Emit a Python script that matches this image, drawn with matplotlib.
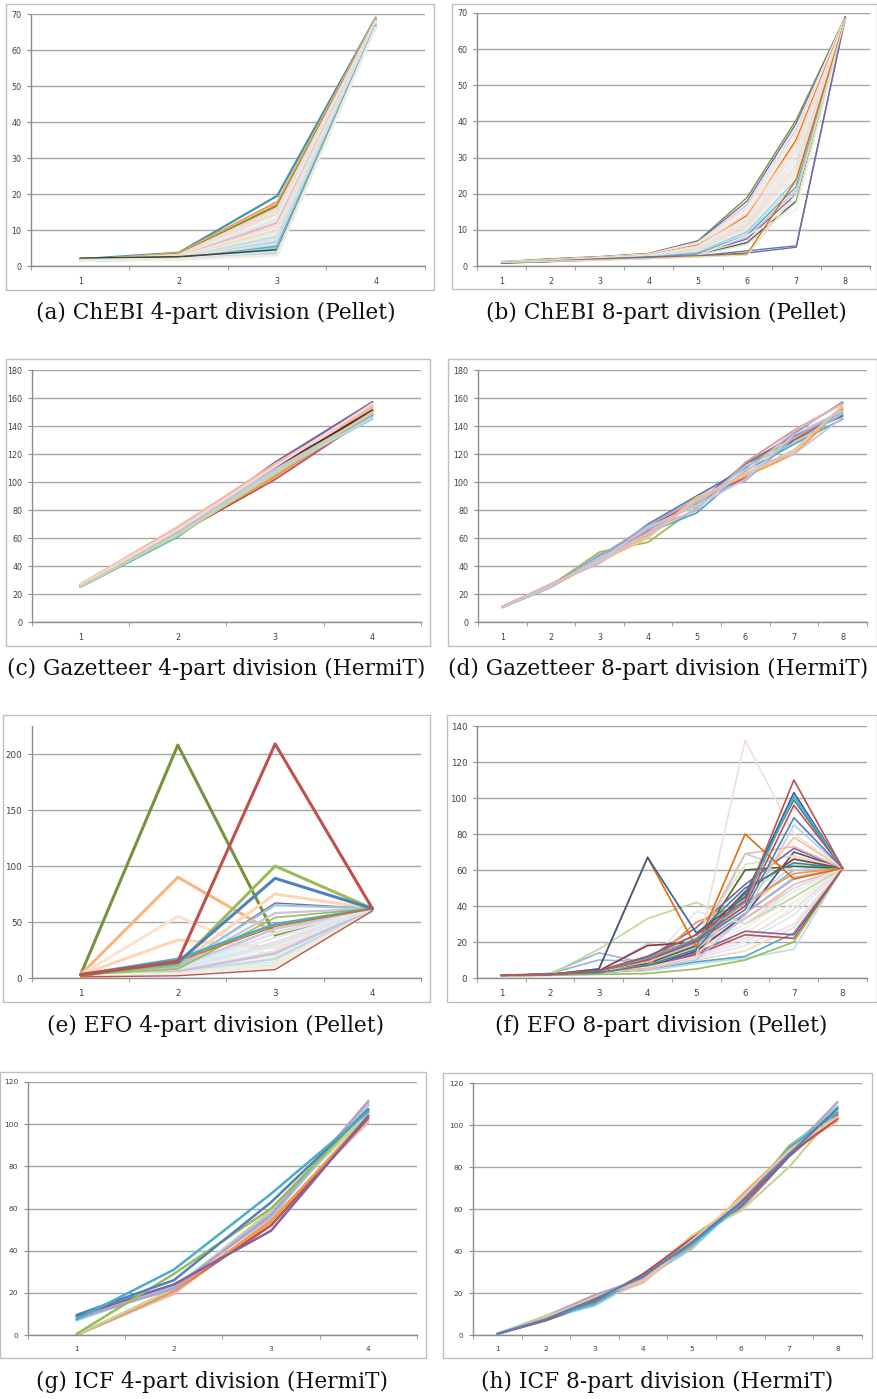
import matplotlib
matplotlib.use("Agg")
import matplotlib.pyplot as plt
from matplotlib.patches import Rectangle

# ---------------- data ----------------
CAPTIONS = [
    "(a) ChEBI 4-part division (Pellet)",
    "(b) ChEBI 8-part division (Pellet)",
    "(c) Gazetteer 4-part division (HermiT)",
    "(d) Gazetteer 8-part division (HermiT)",
    "(e) EFO 4-part division (Pellet)",
    "(f) EFO 8-part division (Pellet)",
    "(g) ICF 4-part division (HermiT)",
    "(h) ICF 8-part division (HermiT)",
]
PARTS_4 = ["1", "2", "3", "4"]
PARTS_8 = ["1", "2", "3", "4", "5", "6", "7", "8"]

A_SERIES = [
    [1.9, 3.7, 19.5, 69.0], [1.5, 3.6, 17.8, 68.8], [1.6, 3.4, 17.2, 68.6],
    [1.7, 3.3, 16.8, 68.4], [1.8, 3.1, 16.0, 68.2], [1.5, 2.9, 15.2, 68.0],
    [1.6, 2.8, 14.5, 67.9], [1.9, 2.7, 13.5, 67.8], [1.7, 2.6, 12.8, 67.6],
    [1.6, 2.5, 12.0, 67.5], [1.5, 2.4, 11.2, 67.4], [1.8, 2.5, 10.5, 67.3],
    [1.7, 2.3, 10.0, 67.2], [1.6, 2.2, 9.4, 67.1], [1.5, 2.3, 8.8, 67.0],
    [1.9, 2.2, 8.2, 67.0], [1.6, 2.1, 7.6, 66.9], [1.7, 2.1, 7.0, 66.8],
    [1.5, 2.0, 6.6, 66.8], [1.8, 2.2, 6.2, 66.7], [1.6, 2.0, 5.8, 66.6],
    [1.5, 1.9, 5.4, 66.6], [1.7, 2.1, 5.0, 66.5], [2.1, 2.5, 4.4, 66.5],
    [1.6, 2.0, 4.0, 66.4], [1.5, 1.8, 3.5, 66.4], [1.7, 2.0, 3.1, 66.3],
    [1.4, 1.7, 2.9, 66.2],
]
A_COLORS = ["#3A97AE", "#F79646", "#FAC090", "#77933C", "#FCD5B5", "#E6E0EC",
            "#F2DCDB", "#EBF1DE", "#DCE6F2", "#E6B9B8", "#E6E0EC", "#FDEADA",
            "#FCD5B5", "#DBEEF4", "#EBF1DE", "#B7DEE8", "#F2DCDB", "#DCE6F2",
            "#93CDDD", "#DBEEF4", "#B7DEE8", "#4BACC6", "#93CDDD", "#4A452A",
            "#DBEEF4", "#B9CDE5", "#DCE6F2", "#EBF1DE"]

B_SERIES = [
    [1.2, 2.0, 2.6, 3.5, 7.0, 19.0, 40.5, 69.0],
    [1.1, 1.9, 2.5, 3.4, 6.8, 18.0, 39.5, 68.9],
    [1.0, 1.8, 2.5, 3.3, 6.5, 17.0, 38.0, 68.8],
    [1.1, 1.7, 2.4, 3.3, 6.6, 16.5, 38.5, 68.9],
    [1.1, 1.8, 2.4, 3.2, 6.2, 16.0, 37.0, 68.8],
    [0.9, 1.7, 2.3, 3.1, 6.0, 15.0, 36.0, 68.7],
    [1.0, 1.7, 2.3, 3.0, 5.8, 14.0, 35.0, 68.7],
    [1.0, 1.6, 2.3, 3.0, 5.6, 14.5, 34.0, 68.6],
    [1.0, 1.6, 2.2, 2.9, 5.5, 13.5, 33.0, 68.6],
    [1.0, 1.5, 2.1, 2.8, 5.0, 12.8, 32.0, 68.5],
    [1.2, 1.6, 2.2, 2.8, 5.2, 13.0, 31.0, 68.6],
    [0.9, 1.6, 2.1, 2.8, 5.0, 12.5, 30.0, 68.5],
    [1.0, 1.5, 2.1, 2.7, 4.8, 12.0, 29.0, 68.5],
    [1.1, 1.5, 2.0, 2.7, 4.6, 11.5, 28.0, 68.5],
    [1.0, 1.5, 2.0, 2.6, 4.4, 11.0, 27.0, 68.4],
    [0.9, 1.4, 2.0, 2.6, 4.2, 10.5, 26.0, 68.4],
    [1.0, 1.4, 1.9, 2.5, 4.0, 10.0, 25.0, 68.4],
    [1.1, 1.5, 1.9, 2.5, 3.8, 9.5, 24.0, 68.3],
    [1.0, 1.4, 1.9, 2.4, 3.6, 9.0, 23.0, 68.3],
    [0.9, 1.4, 1.8, 2.4, 3.5, 8.5, 22.0, 68.3],
    [1.0, 1.3, 1.8, 2.3, 3.4, 8.0, 21.0, 68.2],
    [1.0, 1.3, 1.8, 2.3, 3.3, 7.5, 20.0, 68.2],
    [1.1, 1.4, 1.7, 2.2, 3.2, 7.0, 19.0, 68.2],
    [0.9, 1.3, 1.7, 2.2, 3.1, 6.5, 18.0, 68.1],
    [1.0, 1.3, 1.7, 2.1, 3.0, 6.0, 17.5, 68.1],
    [1.0, 1.3, 1.6, 2.1, 2.9, 8.5, 15.5, 68.0],
    [0.8, 1.3, 2.0, 2.5, 2.8, 4.2, 5.6, 69.0],
    [0.8, 1.2, 1.8, 2.4, 2.8, 3.6, 5.2, 68.8],
    [1.0, 1.3, 1.7, 2.1, 2.6, 3.3, 24.0, 68.5],
    [1.0, 1.3, 1.6, 2.0, 2.5, 3.0, 20.0, 68.4],
]
B_COLORS = ["#77933C", "#8064A2", "#E6B9B8", "#DBEEF4", "#DCE6F2", "#FDEADA",
            "#E46C0A", "#FCD5B5", "#F2DCDB", "#E6E0EC", "#EBF1DE", "#E6E0EC",
            "#DBEEF4", "#FCD5B5", "#F2DCDB", "#DCE6F2", "#FDEADA", "#93CDDD",
            "#B7DEE8", "#4BACC6", "#CCC1DA", "#8064A2", "#EBF1DE", "#5F497A",
            "#D7E4BD", "#EBF1DE", "#4F81BD", "#8064A2", "#E46C0A", "#D7E4BD"]

C_SERIES = [
    [25.0, 61, 110, 157], [25.5, 62, 108, 145], [25.0, 64, 114, 157],
    [26.0, 63, 102, 148], [27.0, 65, 103, 150], [26.0, 64, 105, 152],
    [26.5, 64, 104, 154], [26.0, 66, 112, 147], [27.0, 68, 113, 153],
    [26.0, 65, 110, 151], [25.0, 63, 107, 146], [27.0, 67, 112, 155],
    [26.0, 65, 109, 149], [26.5, 66, 111, 156], [25.5, 62, 106, 150],
]
C_COLORS = ["#4BACC6", "#93CDDD", "#8064A2", "#C0504D", "#D99694", "#9BBB59",
            "#F79646", "#B3A2C7", "#E6B9B8", "#632523", "#B7DEE8", "#FAC090",
            "#CCC1DA", "#F2DCDB", "#C3D69B"]

D_SERIES = [
    [10.5, 25, 44, 70, 90, 110, 135, 157],
    [10.5, 26, 50, 57, 82, 113, 130, 152],
    [11.0, 27, 45, 68, 86, 103, 130, 148],
    [10.5, 25, 48, 64, 78, 108, 127, 145],
    [11.0, 26, 43, 62, 89, 104, 120, 153],
    [10.5, 25, 46, 65, 85, 113, 133, 147],
    [11.0, 27, 42, 66, 80, 114, 137, 156],
    [10.5, 26, 47, 69, 88, 101, 132, 150],
    [11.0, 25, 44, 61, 87, 106, 123, 154],
    [10.5, 26, 45, 67, 84, 111, 128, 149],
    [11.0, 27, 43, 60, 89, 105, 122, 155],
    [10.5, 25, 46, 63, 81, 109, 120, 146],
    [10.5, 26, 44, 68, 83, 102, 134, 151],
    [11.0, 27, 42, 64, 86, 107, 136, 156],
]
D_COLORS = ["#4F81BD", "#9BBB59", "#C0504D", "#4BACC6", "#F79646", "#8064A2",
            "#D99694", "#B3A2C7", "#C3D69B", "#93CDDD", "#FAC090", "#CCC1DA",
            "#B9CDE5", "#E6B9B8"]

E_SERIES = [
    [3, 208, 38, 62], [3, 90, 40, 62], [3, 55, 18, 62], [3, 34, 27, 62],
    [3, 10, 44, 61], [3, 9, 40, 61], [3, 8, 36, 61], [3, 7, 32, 61],
    [3, 7, 28, 61], [3, 6, 24, 60], [3, 6, 20, 60], [3, 5, 17, 60],
    [3, 5, 14, 60], [3, 4, 12, 60], [3, 4, 10, 60], [3, 6, 22, 61],
    [3, 8, 30, 61], [3, 4, 13, 59], [1, 2, 7.5, 60],
    [3, 12, 75, 62], [3, 10, 67, 62], [3, 11, 65, 62], [3, 9, 58, 62],
    [3, 8, 54, 62], [3, 17, 48, 62], [1, 15, 46, 62],
    [3, 12, 100, 62], [3, 14, 89, 62], [3, 15, 209, 62],
]
E_COLORS = ["#76923C", "#FAB57A", "#FDE2D2", "#FCD5B5",
            "#B9CDE5", "#E6E0EC", "#DBEEF4", "#F2DCDB",
            "#EBF1DE", "#DCE6F2", "#FDEADA", "#B7DEE8",
            "#E6E0EC", "#D7E4BD", "#EBF1DE", "#CCC1DA",
            "#DCE6F2", "#EBF1DE", "#C0504D",
            "#FCD5B5", "#8064A2", "#93CDDD", "#CCC1DA",
            "#9BBB59", "#4BACC6", "#E46C0A",
            "#9BBB59", "#4F81BD", "#C0504D"]
E_WIDTHS = [2.2, 2.2, 2.2, 2.2] + [1.8] * 14 + [1.0] + [2.2, 1.0, 1.6, 1.6, 1.2, 2.0, 1.0] + [2.2, 2.2, 2.2]

F_SERIES = [
    [1.5, 2.0, 3, 6, 13, 20, 40, 61], [1.5, 2.0, 3, 6, 15, 33, 50, 61],
    [1.2, 1.8, 3, 4, 8, 11, 16, 61], [1.0, 1.5, 2, 2.5, 5, 10, 20, 61],
    [1.2, 1.8, 3, 5, 9, 12, 25, 61], [1.5, 2.0, 3, 6, 10, 15, 28, 61],
    [1.5, 2.0, 3, 6, 11, 18, 30, 61], [1.5, 2.0, 3, 6, 12, 20, 35, 61],
    [1.5, 2.0, 3, 7, 13, 22, 38, 61], [1.5, 2.0, 3, 7, 14, 25, 42, 61],
    [1.5, 2.0, 3, 8, 15, 28, 45, 61], [1.5, 2.0, 3, 8, 16, 30, 48, 61],
    [1.5, 2.0, 3, 9, 17, 33, 52, 61], [1.5, 2.0, 3, 9, 18, 36, 56, 61],
    [1.5, 2.0, 4, 10, 19, 38, 60, 61], [1.5, 2.0, 4, 10, 20, 40, 63, 61],
    [1.5, 2.0, 4, 11, 21, 44, 67, 61], [1.5, 2.0, 3, 5, 14, 26, 24, 61],
    [1.5, 2.0, 3, 5, 13, 24, 22, 61], [1.5, 2.0, 3, 6, 15, 35, 70, 61],
    [1.5, 2.5, 14, 8, 22, 40, 60, 61], [1.5, 2.5, 10, 9, 18, 36, 55, 61],
    [1.0, 2.0, 16, 33, 42, 30, 45, 61], [1.5, 2.0, 4, 19, 16, 69, 60, 61],
    [1.5, 2.0, 4, 8, 37, 30, 50, 61], [1.5, 2.0, 4, 9, 22, 63, 68, 61],
    [1.5, 2.0, 4, 8, 18, 60, 62, 61], [1.5, 2.0, 4, 11, 28, 52, 72, 61],
    [1.5, 2.0, 4, 7, 31, 42, 58, 61], [1.5, 2.0, 4, 18, 20, 48, 66, 61],
    [1.5, 2.0, 3, 5, 10, 35, 85, 61], [1.5, 2.0, 3, 5, 12, 45, 78, 61],
    [1.5, 2.0, 4, 12, 24, 50, 64, 61], [1.5, 2.0, 4, 9, 19, 69, 73, 61],
    [1.5, 2.0, 4, 6, 12, 132, 80, 61], [1.5, 2.0, 5, 67, 17, 80, 55, 61],
    [1.5, 2.0, 5, 67, 25, 45, 103, 61], [1.5, 2.0, 3, 7, 16, 47, 99, 61],
    [1.5, 2.0, 4, 10, 20, 38, 89, 61], [1.5, 2.0, 4, 10, 21, 40, 96, 61],
    [1.5, 2.0, 4, 11, 22, 42, 101, 61], [1.5, 2.0, 4, 12, 24, 43, 110, 61],
]
F_COLORS = ["#F2F2F2", "#FAC090", "#B7DEE8", "#9BBB59", "#4BACC6", "#FCD5B5",
            "#E6E0EC", "#DCE6F2", "#F2DCDB", "#EBF1DE", "#FDEADA", "#DBEEF4",
            "#E6B9B8", "#CCC1DA", "#FCD5B5", "#B7DEE8", "#D7E4BD", "#8064A2",
            "#C0504D", "#5F497A", "#95B3D7", "#95B3D7", "#C3D69B", "#B9CDE5",
            "#DCE6F2", "#D7E4BD", "#4F6228", "#8064A2", "#F79646", "#953735",
            "#B9CDE5", "#FAC090", "#31859C", "#E6B9B8", "#F2DCDB", "#E46C0A",
            "#376092", "#31859C", "#4F81BD", "#C0504D", "#4BACC6", "#C0504D"]

G_SERIES = [
    [0.0, 20, 53, 102], [0.0, 19.5, 55, 101], [0.0, 21, 52, 103],
    [0.0, 21, 54, 104], [0.0, 22, 59, 105], [7.0, 23, 56, 109],
    [8.5, 22, 58, 110], [8.0, 22, 57, 111], [9.0, 24, 49.5, 104],
    [0.5, 29, 60, 107], [9.5, 26, 63, 107], [7.5, 31, 67, 106],
]
G_COLORS = ["#FAC090", "#E6B9B8", "#C0504D", "#F79646", "#C3D69B", "#93CDDD",
            "#CCC1DA", "#B3A2C7", "#8064A2", "#9BBB59", "#4F81BD", "#4BACC6"]

H_SERIES = [
    [0.5, 7.0, 15, 29, 45, 60, 85, 105],
    [0.5, 9.0, 18, 27, 47, 62, 90, 107],
    [0.5, 8.0, 17, 26, 42, 66, 88, 104],
    [0.5, 8.0, 14, 27, 41, 63, 89, 109],
    [0.5, 9.0, 19, 27, 46, 60, 87, 111],
    [0.5, 8.0, 16, 25, 44, 64, 87, 102],
    [0.5, 9.0, 17, 28, 47, 59, 80, 107],
    [0.5, 7.0, 16, 29, 46, 61, 86, 103],
    [0.5, 8.0, 15, 28, 43, 62, 89, 106],
    [0.5, 8.0, 18, 26, 45, 65, 88, 104],
    [0.5, 7.5, 17, 28, 44, 63, 86, 108],
]
H_COLORS = ["#8064A2", "#9BBB59", "#F79646", "#93CDDD", "#B3A2C7", "#E6B9B8",
            "#C3D69B", "#C0504D", "#4BACC6", "#FAC090", "#4F81BD"]

# ---------------- layout (pixels) ----------------
W, H = 878, 1399
fig = plt.figure(figsize=(W / 100, H / 100), dpi=100)
fig.patch.set_facecolor("white")

GRID = "#A6A6A6"
AXIS = "#8C8C8C"
TICKC = "#404040"


def add_box(x0, y0, x1, y1):
    fig.add_artist(Rectangle((x0 / W, 1 - y1 / H), (x1 - x0) / W, (y1 - y0) / H,
                             transform=fig.transFigure, fill=False,
                             edgecolor="#BFBFBF", lw=1.0))


def panel(box, area, series, colors, labels, ymax, ystep, ytop, widths, fs, caption, cap_xy):
    add_box(*box)
    x0, y0, x1, y1 = area
    ax = fig.add_axes([x0 / W, 1 - y1 / H, (x1 - x0) / W, (y1 - y0) / H])
    n = len(labels)
    xs = list(range(1, n + 1))
    if not isinstance(widths, list):
        widths = [widths] * len(series)
    for vals, c, lw in zip(series, colors, widths):
        ax.plot(xs, vals, color=c, lw=lw, solid_joinstyle="round", solid_capstyle="round")
    ax.set_xlim(0.5, n + 0.5)
    ax.set_ylim(0, ytop)
    ax.set_yticks(list(range(0, ymax + 1, ystep)))
    ax.set_xticks(xs)
    ax.set_xticklabels(labels)
    ax.set_xticks([i + 0.5 for i in range(n + 1)], minor=True)
    ax.yaxis.grid(True, color=GRID, lw=1.0)
    ax.set_axisbelow(True)
    for s in ("top", "right"):
        ax.spines[s].set_visible(False)
    for s in ("left", "bottom"):
        ax.spines[s].set_color(AXIS)
        ax.spines[s].set_linewidth(1.0)
    ax.tick_params(axis="x", which="major", length=0, pad=8, labelsize=fs, labelcolor=TICKC)
    ax.tick_params(axis="x", which="minor", length=3, color=AXIS, direction="out")
    ax.tick_params(axis="y", which="major", length=3, color=AXIS, pad=4, labelsize=fs, labelcolor=TICKC)
    ax.set_facecolor("none")
    fig.text(cap_xy[0] / W, 1 - cap_xy[1] / H, caption, ha="center", va="center",
             family="DejaVu Serif", fontsize=15.6, color="#111111")
    return ax


panel((6, 4, 434, 290), (31, 14, 425, 266), A_SERIES, A_COLORS, PARTS_4,
      70, 10, 70, 1.6, 5.8, CAPTIONS[0], (216, 313))
panel((452, 4, 877, 289), (477, 13, 870, 266), B_SERIES, B_COLORS, PARTS_8,
      70, 10, 70, 1.0, 5.8, CAPTIONS[1], (666, 313))
panel((6, 359, 430, 646), (32, 370, 421, 622), C_SERIES, C_COLORS, PARTS_4,
      180, 20, 180, 1.6, 5.8, CAPTIONS[2], (216, 669))
panel((448, 359, 877, 646), (478, 370, 867, 622), D_SERIES, D_COLORS, PARTS_8,
      180, 20, 180, 1.3, 5.8, CAPTIONS[3], (658, 669))
panel((3, 715, 430, 1002), (32, 726, 421, 978), E_SERIES, E_COLORS, PARTS_4,
      200, 50, 225, E_WIDTHS, 6.3, CAPTIONS[4], (216, 1026))
panel((447, 715, 877, 1002), (477, 726, 867, 978), F_SERIES, F_COLORS, PARTS_8,
      140, 20, 140, 1.2, 6.3, CAPTIONS[5], (661, 1026))
panel((0, 1072, 426, 1358), (28, 1082, 417, 1335), G_SERIES, G_COLORS, PARTS_4,
      120, 20, 120, 1.8, 5.4, CAPTIONS[6], (212, 1382))
panel((443, 1073, 872, 1358), (473, 1083, 862, 1335), H_SERIES, H_COLORS, PARTS_8,
      120, 20, 120, 1.6, 5.4, CAPTIONS[7], (657, 1382))

fig.savefig("out.png", dpi=100, facecolor="white")
